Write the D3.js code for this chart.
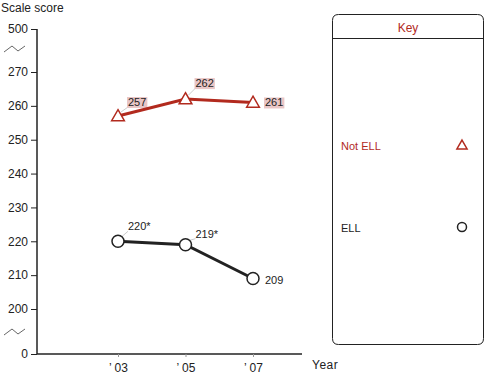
<!DOCTYPE html>
<html>
<head>
<meta charset="utf-8">
<script src="https://cdn.jsdelivr.net/npm/d3@7"></script>
<style>
  body { margin: 0; background: #fff; }
  svg text { font-family: "Liberation Sans", Arial, sans-serif; }
</style>
</head>
<body>
<div id="chart"></div>
<script>
// Chart data
const years = ["'03", "'05", "'07"];
const yearLabels = ["\u2019 03", "\u2019 05", "\u2019 07"];
const notEll = [257, 262, 261];
const ell = [220, 219, 209];
const ellLabels = ["220*", "219*", "209"];
const notEllLabels = ["257", "262", "261"];
const yTicks = [0, 200, 210, 220, 230, 240, 250, 260, 270, 500];

const width = 504, height = 388;

const svg = d3.select("#chart").append("svg")
    .attr("width", width)
    .attr("height", height);

// broken y axis: piecewise linear scale
const y = d3.scaleLinear()
    .domain([0, 200, 270, 500])
    .range([354, 309, 72, 29]);

const x = d3.scalePoint()
    .domain(years)
    .range([118, 253]);

const axisX0 = 37, axisX1 = 302;

// Y axis
const yAxis = svg.append("g")
    .attr("transform", "translate(" + axisX0 + ",0)")
    .call(d3.axisLeft(y).tickValues(yTicks).tickSize(6).tickSizeOuter(0).tickPadding(3));
yAxis.select(".domain").attr("stroke", "#222").attr("stroke-width", 1.5)
    .attr("d", "M0," + y(500) + "V" + y(0));
yAxis.selectAll(".tick line").attr("stroke", "#222");
yAxis.selectAll(".tick text")
    .style("font-size", "12px")
    .attr("fill", "#222");

// X axis
const xAxis = svg.append("g")
    .attr("transform", "translate(0," + y(0) + ")")
    .call(d3.axisBottom(x).tickSize(3).tickSizeOuter(0).tickPadding(6)
        .tickFormat(function(d, i) { return yearLabels[i]; }));
xAxis.select(".domain").attr("stroke", "#222").attr("stroke-width", 1.5)
    .attr("d", "M" + axisX0 + ",0H" + axisX1);
xAxis.selectAll(".tick line").attr("stroke", "#999");
xAxis.selectAll(".tick text")
    .style("font-size", "12px")
    .attr("fill", "#222");

// axis titles
svg.append("text")
    .attr("x", 1).attr("y", 12)
    .style("font-size", "12px").attr("fill", "#222")
    .text("Scale score");
svg.append("text")
    .attr("x", 312).attr("y", 369)
    .style("font-size", "12px").style("letter-spacing", "0.5px").attr("fill", "#222")
    .text("Year");

// axis break marks
[49, 332].forEach(function(yy) {
    svg.append("path")
        .attr("d", "M4," + (yy + 3) + "L12," + (yy - 3) + "L18," + (yy + 2) + "L25," + (yy - 3))
        .attr("fill", "none")
        .attr("stroke", "#666")
        .attr("stroke-width", 1);
});

const line = d3.line()
    .x(function(d, i) { return x(years[i]); })
    .y(function(d) { return y(d); });

const red = "#b22a1e";

// layers
const bgLayer = svg.append("g");
const lineLayer = svg.append("g");
const labelLayer = svg.append("g");
const markLayer = svg.append("g");

// Not ELL series
lineLayer.append("path")
    .datum(notEll)
    .attr("d", line)
    .attr("fill", "none")
    .attr("stroke", red)
    .attr("stroke-width", 3);

// ELL series
lineLayer.append("path")
    .datum(ell)
    .attr("d", line)
    .attr("fill", "none")
    .attr("stroke", "#222")
    .attr("stroke-width", 3);

// value labels with leaders
const notEllOffsets = [[10, -10, "leader"], [10, -12, "leader"], [12, 4, "none"]];
const ellOffsets = [[10, -11, "leader"], [10, -7, "leader"], [12, 5, "none"]];

function addLabels(values, labels, offsets, bg) {
    values.forEach(function(v, i) {
        const cx = x(years[i]), cy = y(v);
        const o = offsets[i];
        const tx = cx + o[0], ty = cy + o[1];
        if (o[2] === "leader") {
            bgLayer.append("line")
                .attr("x1", cx + 3).attr("y1", cy - 4)
                .attr("x2", tx).attr("y2", ty + 1)
                .attr("stroke", "#ccc").attr("stroke-width", 1);
        }
        const t = labelLayer.append("text")
            .attr("x", tx).attr("y", ty)
            .style("font-size", "11px")
            .attr("fill", "#222")
            .text(labels[i]);
        if (bg) {
            const b = t.node().getBBox();
            bgLayer.append("rect")
                .attr("x", b.x - 1).attr("y", b.y + 1)
                .attr("width", b.width + 2).attr("height", b.height - 1)
                .attr("fill", "#e9c6c6");
        }
    });
}
addLabels(notEll, notEllLabels, notEllOffsets, true);
addLabels(ell, ellLabels, ellOffsets, false);

// markers
const tri = d3.symbol().type(d3.symbolTriangle).size(70);
markLayer.selectAll(".tri")
    .data(notEll)
    .enter().append("path")
    .attr("class", "tri")
    .attr("d", tri)
    .attr("transform", function(d, i) { return "translate(" + x(years[i]) + "," + (y(d) + 1) + ")"; })
    .attr("fill", "#fff")
    .attr("stroke", red)
    .attr("stroke-width", 1.5);

markLayer.selectAll(".circ")
    .data(ell)
    .enter().append("circle")
    .attr("class", "circ")
    .attr("cx", function(d, i) { return x(years[i]); })
    .attr("cy", function(d) { return y(d); })
    .attr("r", 6)
    .attr("fill", "#fff")
    .attr("stroke", "#222")
    .attr("stroke-width", 1.5);

// Legend box (rounded corners)
const lx0 = 332.5, lx1 = 483.5, ly0 = 14.5, ly1 = 344.5, rr = 6;
svg.append("path")
    .attr("d", "M" + lx0 + "," + (ly1 - rr) + "V" + (ly0 + rr) + "Q" + lx0 + "," + ly0 + " " + (lx0 + rr) + "," + ly0 +
        "H" + (lx1 - rr) + "Q" + lx1 + "," + ly0 + " " + lx1 + "," + (ly0 + rr) +
        "V" + (ly1 - rr) + "Q" + lx1 + "," + ly1 + " " + (lx1 - rr) + "," + ly1 +
        "H" + (lx0 + rr) + "Q" + lx0 + "," + ly1 + " " + lx0 + "," + (ly1 - rr) + "Z")
    .attr("fill", "none")
    .attr("stroke", "#222")
    .attr("stroke-width", 1);
svg.append("line")
    .attr("x1", lx0).attr("x2", lx1)
    .attr("y1", 38.5).attr("y2", 38.5)
    .attr("stroke", "#222");
svg.append("text")
    .attr("x", (lx0 + lx1) / 2).attr("y", 32)
    .attr("text-anchor", "middle")
    .style("font-size", "12px")
    .attr("fill", red)
    .text("Key");

const legTri = d3.symbol().type(d3.symbolTriangle).size(45);
svg.append("text")
    .attr("x", 341).attr("y", 150)
    .style("font-size", "11px").attr("fill", red)
    .text("Not ELL");
svg.append("path")
    .attr("d", legTri)
    .attr("transform", "translate(462,146)")
    .attr("fill", "#fff").attr("stroke", red).attr("stroke-width", 1.5);

svg.append("text")
    .attr("x", 341).attr("y", 232)
    .style("font-size", "11px").attr("fill", "#222")
    .text("ELL");
svg.append("circle")
    .attr("cx", 462).attr("cy", 227).attr("r", 4.5)
    .attr("fill", "#fff").attr("stroke", "#222").attr("stroke-width", 1.5);
</script>
</body>
</html>
